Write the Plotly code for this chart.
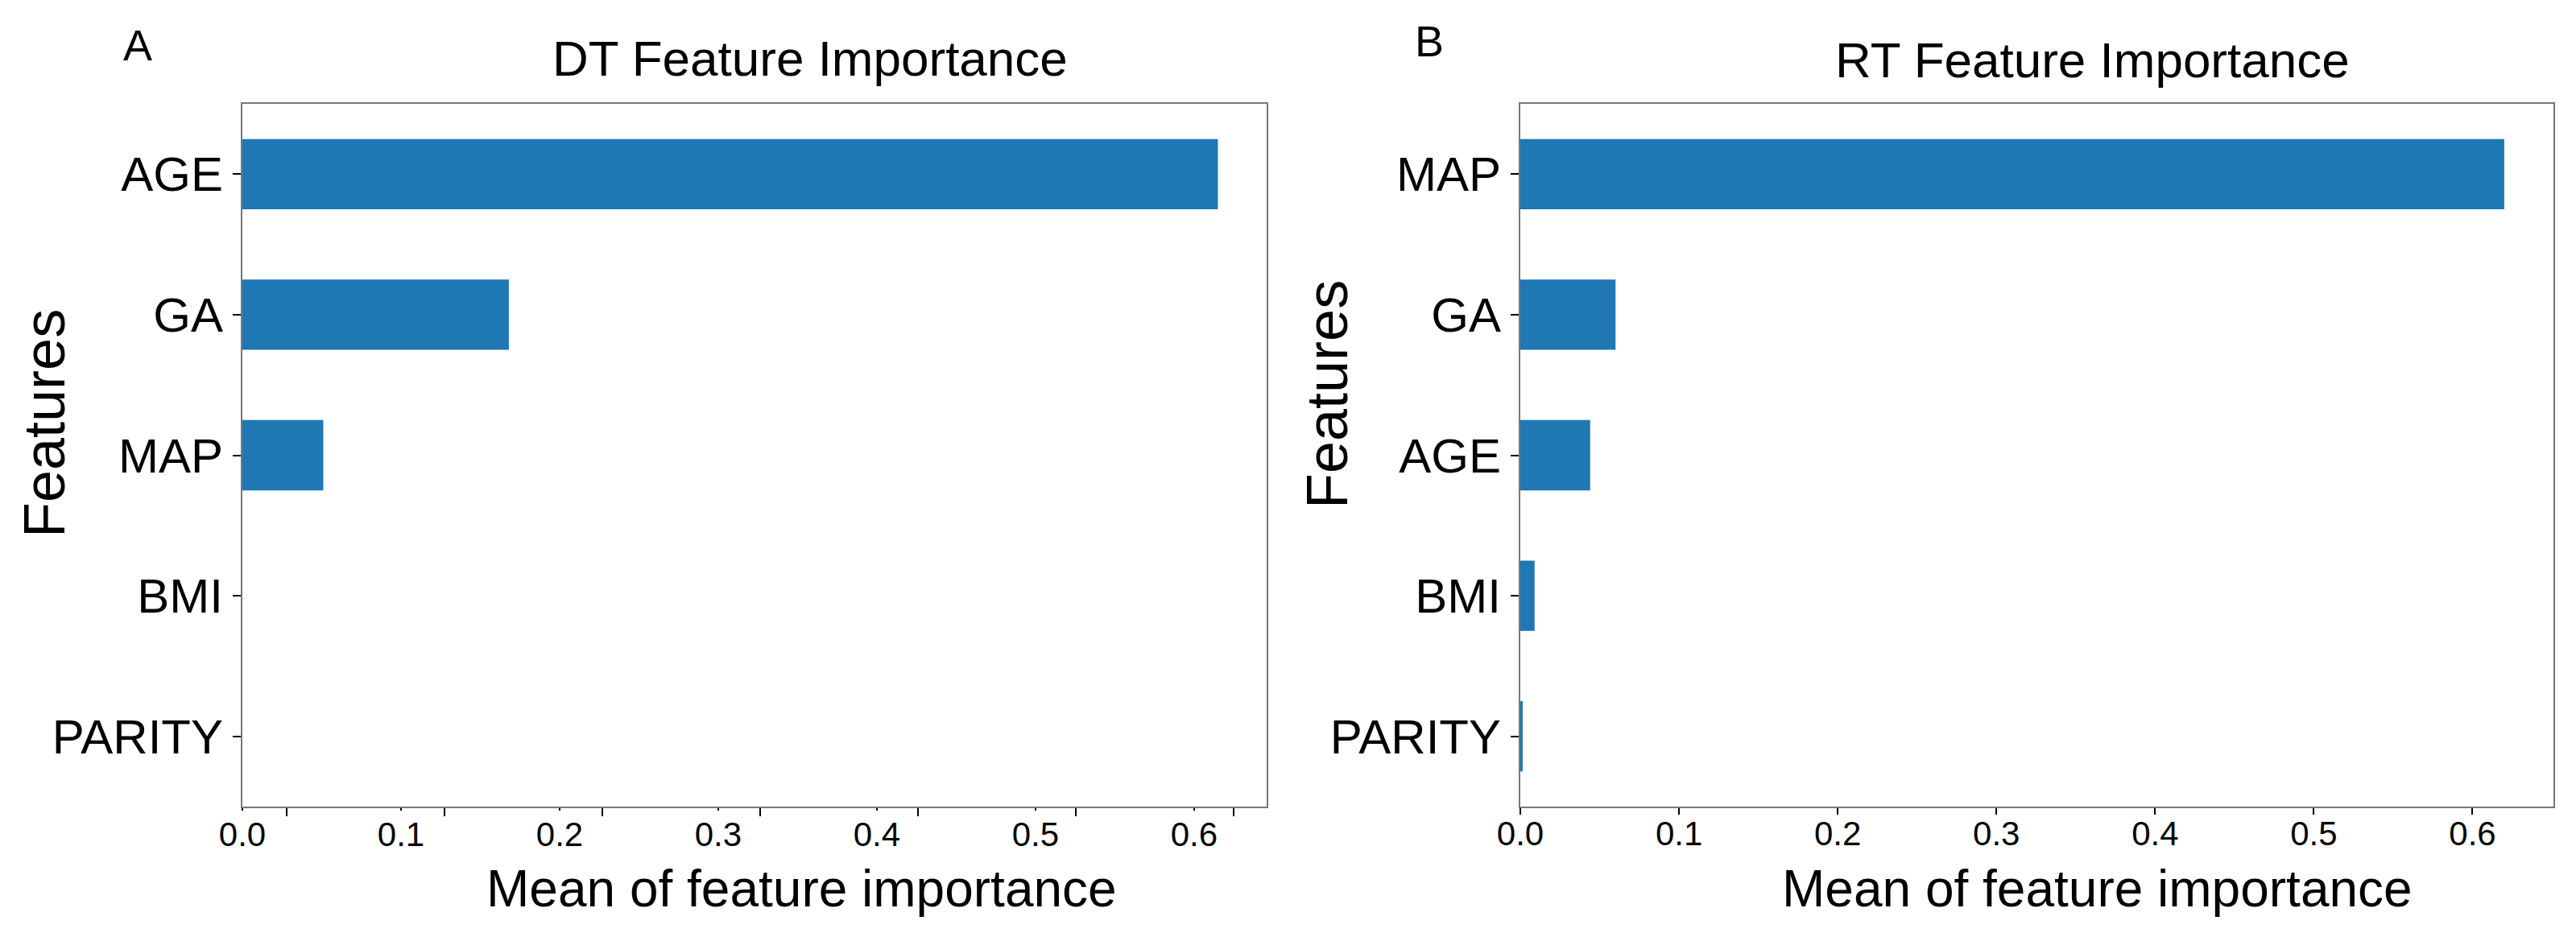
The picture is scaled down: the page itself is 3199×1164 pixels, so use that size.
import plotly.graph_objects as go
from plotly.subplots import make_subplots

# DT model (panel A)
dt_features = ["AGE", "GA", "MAP", "BMI", "PARITY"]
dt_importance = [0.615, 0.168, 0.051, 0.0, 0.0]

# RT model (panel B)
rt_features = ["MAP", "GA", "AGE", "BMI", "PARITY"]
rt_importance = [0.620, 0.060, 0.044, 0.009, 0.0015]

tick_vals = [0.0, 0.1, 0.2, 0.3, 0.4, 0.5, 0.6]
tick_text = ["0.0", "0.1", "0.2", "0.3", "0.4", "0.5", "0.6"]

W, H = 3199, 1164
FONT = "Liberation Sans, Arial, sans-serif"
BAR = "#1f77b4"

def px_x(v):
    return v / W

def px_y(v):
    return 1 - v / H

fig = make_subplots(rows=1, cols=2)

fig.add_trace(go.Bar(x=dt_importance, y=dt_features, orientation="h", width=0.5,
                     marker=dict(color=BAR, line=dict(width=0)), showlegend=False), row=1, col=1)
fig.add_trace(go.Bar(x=rt_importance, y=rt_features, orientation="h", width=0.5,
                     marker=dict(color=BAR, line=dict(width=0)), showlegend=False), row=1, col=2)

frame = dict(showline=True, mirror=True, linecolor="#777777", linewidth=2,
             showgrid=False, zeroline=False, automargin=False)

# x axes (matplotlib style 5% headroom on the right)
fig.update_xaxes(frame, range=[0, max(dt_importance) * 1.05], domain=[px_x(301), px_x(1573)],
                 tickmode="array", tickvals=tick_vals, ticktext=tick_text,
                 ticks="outside", ticklen=3, tickcolor="black", tickwidth=2,
                 ticklabelstandoff=-6,
                 tickfont=dict(family=FONT, size=42, color="black"),
                 minor=dict(tickmode="array",
                            tickvals=[0.028, 0.1275, 0.227, 0.3265, 0.426, 0.5255, 0.625],
                            ticks="outside", ticklen=10, tickcolor="black", tickwidth=2),
                 row=1, col=1)
fig.update_xaxes(frame, range=[0, max(rt_importance) * 1.05], domain=[px_x(1888), px_x(3171)],
                 tickmode="array", tickvals=tick_vals, ticktext=tick_text,
                 ticks="outside", ticklen=8, tickcolor="black", tickwidth=2,
                 ticklabelstandoff=-12,
                 tickfont=dict(family=FONT, size=42, color="black"),
                 row=1, col=2)

fig.update_yaxes(frame, range=[4.5, -0.5], domain=[px_y(1002), px_y(129)],
                 ticks="outside", ticklen=10, tickcolor="black", tickwidth=2,
                 tickfont=dict(family=FONT, size=60, color="black"))

def label(text, x, y, size, angle=0):
    fig.add_annotation(text=text, x=px_x(x), y=px_y(y), xref="paper", yref="paper",
                       xanchor="center", yanchor="middle", showarrow=False, textangle=angle,
                       font=dict(family=FONT, size=size, color="black"))

label("A", 171, 56, 54)
label("B", 1775, 51, 54)
label("DT Feature Importance", 1006, 72, 62)
label("RT Feature Importance", 2598, 74, 62)
label("Features", 55, 526, 72, -90)
label("Features", 1648, 490, 72, -90)
label("Mean of feature importance", 995, 1104, 64)
label("Mean of feature importance", 2604, 1104, 64)

fig.update_layout(
    width=W, height=H,
    margin=dict(l=0, r=0, t=0, b=0, autoexpand=False),
    paper_bgcolor="white",
    plot_bgcolor="white",
    bargap=0.5,
)

# drop the default 8px page margin so the figure sits at the window's corner
fig.write_html("out.html", config={"displayModeBar": False},
               post_script="document.body.style.margin = '0';")
